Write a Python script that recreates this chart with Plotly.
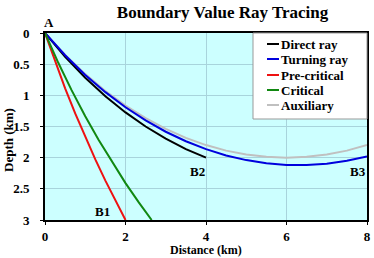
import plotly.graph_objects as go

# Ray paths (distance km, depth km)
direct_x = [0, 0.5, 1, 1.5, 2, 2.5, 3, 3.5, 4]
direct_z = [0, 0.382, 0.718, 1.014, 1.274, 1.5, 1.695, 1.862, 2.0]

turning_x = [0, 0.5, 1, 1.5, 2, 2.5, 3, 3.5, 4, 4.5, 5, 5.5, 6, 6.5, 7, 7.5, 8]
turning_z = [0, 0.357, 0.672, 0.949, 1.192, 1.403, 1.584, 1.737, 1.863, 1.964,
             2.039, 2.089, 2.116, 2.118, 2.097, 2.051, 1.981]

precrit_x = [0, 0.25, 0.5, 0.75, 1, 1.25, 1.5, 1.75, 2]
precrit_z = [0, 0.459, 0.888, 1.29, 1.67, 2.028, 2.368, 2.692, 3.0]

crit_x = [0, 0.33, 0.66, 1, 1.33, 1.66, 2, 2.33, 2.65]
crit_z = [0, 0.478, 0.917, 1.336, 1.714, 2.067, 2.408, 2.718, 3.0]

aux_x = [0, 0.5, 1, 1.5, 2, 2.5, 3, 3.5, 4, 4.5, 5, 5.5, 6, 6.5, 7, 7.5, 8]
aux_z = [0, 0.352, 0.66, 0.93, 1.165, 1.367, 1.539, 1.682, 1.798, 1.887,
         1.95, 1.987, 2.0, 1.987, 1.95, 1.887, 1.798]

series_names = ["Direct ray", "Turning ray", "Pre-critical", "Critical", "Auxiliary"]
series_colors = ["black", "#0000dd", "#ee1111", "#118811", "#c0c0c0"]

x_ticks = [0, 2, 4, 6, 8]
y_ticks = [0, 0.5, 1, 1.5, 2, 2.5, 3]
y_tick_labels = ["0", "0.5", "1", "1.5", "2", "2.5", "3"]

labels = ["B1", "B2", "B3"]
label_x = [1.44, 3.78, 7.77]
label_z = [2.87, 2.22, 2.22]

x_title = "Distance (km)"
y_title = "Depth (km)"

FONT = "Times New Roman, Liberation Serif, serif"

data = {
    "Direct ray": (direct_x, direct_z),
    "Turning ray": (turning_x, turning_z),
    "Pre-critical": (precrit_x, precrit_z),
    "Critical": (crit_x, crit_z),
    "Auxiliary": (aux_x, aux_z),
}

fig = go.Figure()
draw_order = ["Auxiliary", "Direct ray", "Turning ray", "Pre-critical", "Critical"]
for name in draw_order:
    xs, zs = data[name]
    col = series_colors[series_names.index(name)]
    fig.add_trace(go.Scatter(x=xs, y=zs, mode="lines", name=name,
                             line=dict(color=col, width=2), showlegend=False))

# point labels
fig.add_annotation(x=0.1, y=1.0, xref="x", yref="paper", yanchor="bottom",
                   text="<b>A</b>", showarrow=False, yshift=1,
                   font=dict(family=FONT, size=13, color="black"))
for t, lx, lz in zip(labels, label_x, label_z):
    fig.add_annotation(x=lx, y=lz, text="<b>%s</b>" % t, showarrow=False,
                       font=dict(family=FONT, size=13, color="black"),
                       xref="x", yref="y")

plot_l, plot_r, plot_t, plot_b = 45, 367, 33, 220
def px2paper_x(px):
    return (px - plot_l) / (plot_r - plot_l)
def px2paper_y(py):
    return (plot_b - py) / (plot_b - plot_t)

# axis titles
fig.add_annotation(x=0.5, y=px2paper_y(258), xref="paper", yref="paper",
                   xanchor="center", yanchor="bottom", showarrow=False, borderpad=0,
                   text="<b>%s</b>" % x_title,
                   font=dict(family=FONT, size=12, color="black"))
fig.add_annotation(x=px2paper_x(8), y=px2paper_y(140), xref="paper", yref="paper",
                   xanchor="center", yanchor="middle", showarrow=False, textangle=-90,
                   text="<b>%s</b>" % y_title,
                   font=dict(family=FONT, size=13, color="black"))

# legend box (drawn as shapes + text entries)
fig.add_shape(type="rect", xref="paper", yref="paper",
              x0=px2paper_x(253), x1=1.0, y0=px2paper_y(119), y1=1.0,
              fillcolor="white", line=dict(color="#999999", width=1), layer="above")
entry_y = [44, 59, 75, 90, 105]
for name, col, ey in zip(series_names, series_colors, entry_y):
    fig.add_shape(type="line", xref="paper", yref="paper",
                  x0=px2paper_x(267), x1=px2paper_x(279),
                  y0=px2paper_y(ey), y1=px2paper_y(ey),
                  line=dict(color=col, width=2), layer="above")
    fig.add_annotation(x=px2paper_x(279), y=px2paper_y(ey), xref="paper", yref="paper",
                       xanchor="left", yanchor="middle", showarrow=False,
                       text="<b>%s</b>" % name,
                       font=dict(family=FONT, size=13, color="black"))

fig.update_layout(
    width=374, height=258,
    margin=dict(l=45, r=7, t=33, b=38),
    paper_bgcolor="white",
    plot_bgcolor="#ccffff",
    title=dict(text="<b>Boundary Value Ray Tracing</b>", x=0.595, xanchor="center",
               y=0.955, yanchor="middle",
               font=dict(family=FONT, size=17, color="black")),
    font=dict(family=FONT, color="black"),
    showlegend=False,
)
fig.update_xaxes(range=[0, 8], tickvals=x_ticks,
                 ticktext=["<b>%d</b>" % v for v in x_ticks],
                 showgrid=True, gridcolor="#a8d4dc", gridwidth=1,
                 showline=True, linecolor="black", linewidth=2, mirror=True,
                 ticks="outside", ticklen=3, tickcolor="black",
                 ticklabelstandoff=0, automargin=False,
                 tickfont=dict(family=FONT, size=13, color="black"),
                 zeroline=False)
fig.update_yaxes(range=[3, 0], tickvals=y_ticks,
                 ticktext=["<b>%s</b>" % s for s in y_tick_labels],
                 showgrid=True, gridcolor="#a8d4dc", gridwidth=1,
                 showline=True, linecolor="black", linewidth=2, mirror=True,
                 ticks="outside", ticklen=3, tickcolor="black",
                 ticklabelstandoff=8, automargin=False,
                 tickfont=dict(family=FONT, size=13, color="black"),
                 zeroline=False)

fig.write_html("out.html")
